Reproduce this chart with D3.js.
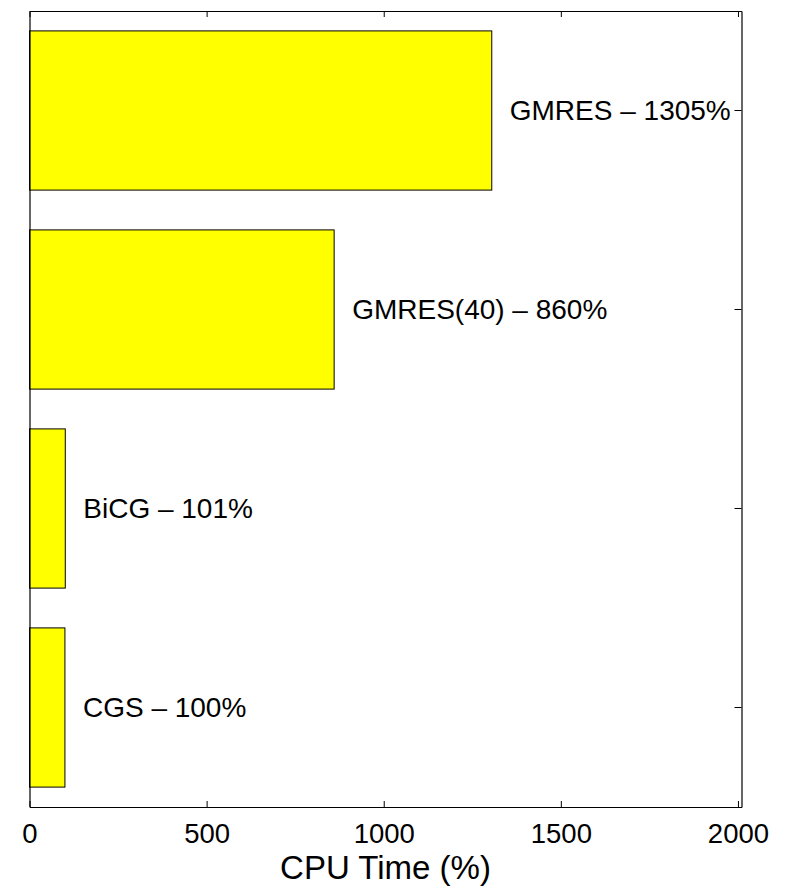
<!DOCTYPE html>
<html>
<head>
<meta charset="utf-8">
<script src="https://cdn.jsdelivr.net/npm/d3@7"></script>
<style>
  html, body { margin: 0; padding: 0; background: #fff; }
  svg { display: block; font-family: "Liberation Sans", Arial, Helvetica, sans-serif; }
</style>
</head>
<body>
<svg id="chart" width="792" height="888"></svg>
<script>
const categories = ["GMRES", "GMRES(40)", "BiCG", "CGS"];
const values = [1305, 860, 101, 100];
const xTicks = [0, 500, 1000, 1500, 2000];
const xLabel = "CPU Time (%)";

(function () {
const svg = d3.select("#chart");
const L = 29.5, R = 741.5, T = 11, B = 807;

const x = d3.scaleLinear().domain([0, 2010]).range([L, R]);
const y = d3.scaleBand().domain(categories).range([T, B]).paddingInner(0.2).paddingOuter(0.1);

// bars
svg.append("g").selectAll("rect").data(categories).join("rect")
  .attr("x", x(0))
  .attr("y", d => y(d))
  .attr("width", (d, i) => x(values[i]) - x(0))
  .attr("height", y.bandwidth())
  .attr("fill", "#ffff00")
  .attr("stroke", "#000")
  .attr("stroke-width", 1);

// labels
svg.append("g").selectAll("text").data(categories).join("text")
  .attr("x", (d, i) => x(values[i]) + 18)
  .attr("y", d => y(d) + y.bandwidth() / 2)
  .attr("dy", "0.35em")
  .attr("font-size", 28)
  .attr("fill", "#000")
  .text((d, i) => `${d} \u2013 ${values[i]}%`);

// bottom axis
const gBottom = svg.append("g").attr("transform", `translate(0,${B})`)
  .call(d3.axisBottom(x).tickValues(xTicks).tickFormat(d3.format("d")).tickSizeInner(-6).tickSizeOuter(0).tickPadding(16));
gBottom.select(".domain").attr("stroke", "#000").attr("stroke-width", 1.2);
gBottom.selectAll(".tick line").attr("stroke", "#000");
gBottom.selectAll(".tick text").attr("font-size", 27.5).attr("font-family", "Liberation Sans, Arial, sans-serif").attr("fill", "#000");

// top axis
const gTop = svg.append("g").attr("transform", `translate(0,${T})`)
  .call(d3.axisTop(x).tickValues(xTicks).tickSizeInner(-6).tickSizeOuter(0).tickFormat(""));
gTop.select(".domain").attr("stroke", "#000").attr("stroke-width", 1.2);
gTop.selectAll(".tick line").attr("stroke", "#000");

// left axis
const gLeft = svg.append("g").attr("transform", `translate(${L},0)`)
  .call(d3.axisLeft(y).tickSize(0).tickFormat(""));
gLeft.select(".domain").attr("stroke", "#000").attr("stroke-width", 1.2);

// right axis
const gRight = svg.append("g").attr("transform", `translate(${R},0)`)
  .call(d3.axisRight(y).tickSizeInner(-7).tickSizeOuter(0).tickFormat(""));
gRight.select(".domain").attr("stroke", "#000").attr("stroke-width", 1.2);
gRight.selectAll(".tick line").attr("stroke", "#000");

// x label
svg.append("text")
  .attr("x", (L + R) / 2)
  .attr("y", 879)
  .attr("text-anchor", "middle")
  .attr("font-size", 33)
  .attr("fill", "#000")
  .text(xLabel);
})();
</script>
</body>
</html>
